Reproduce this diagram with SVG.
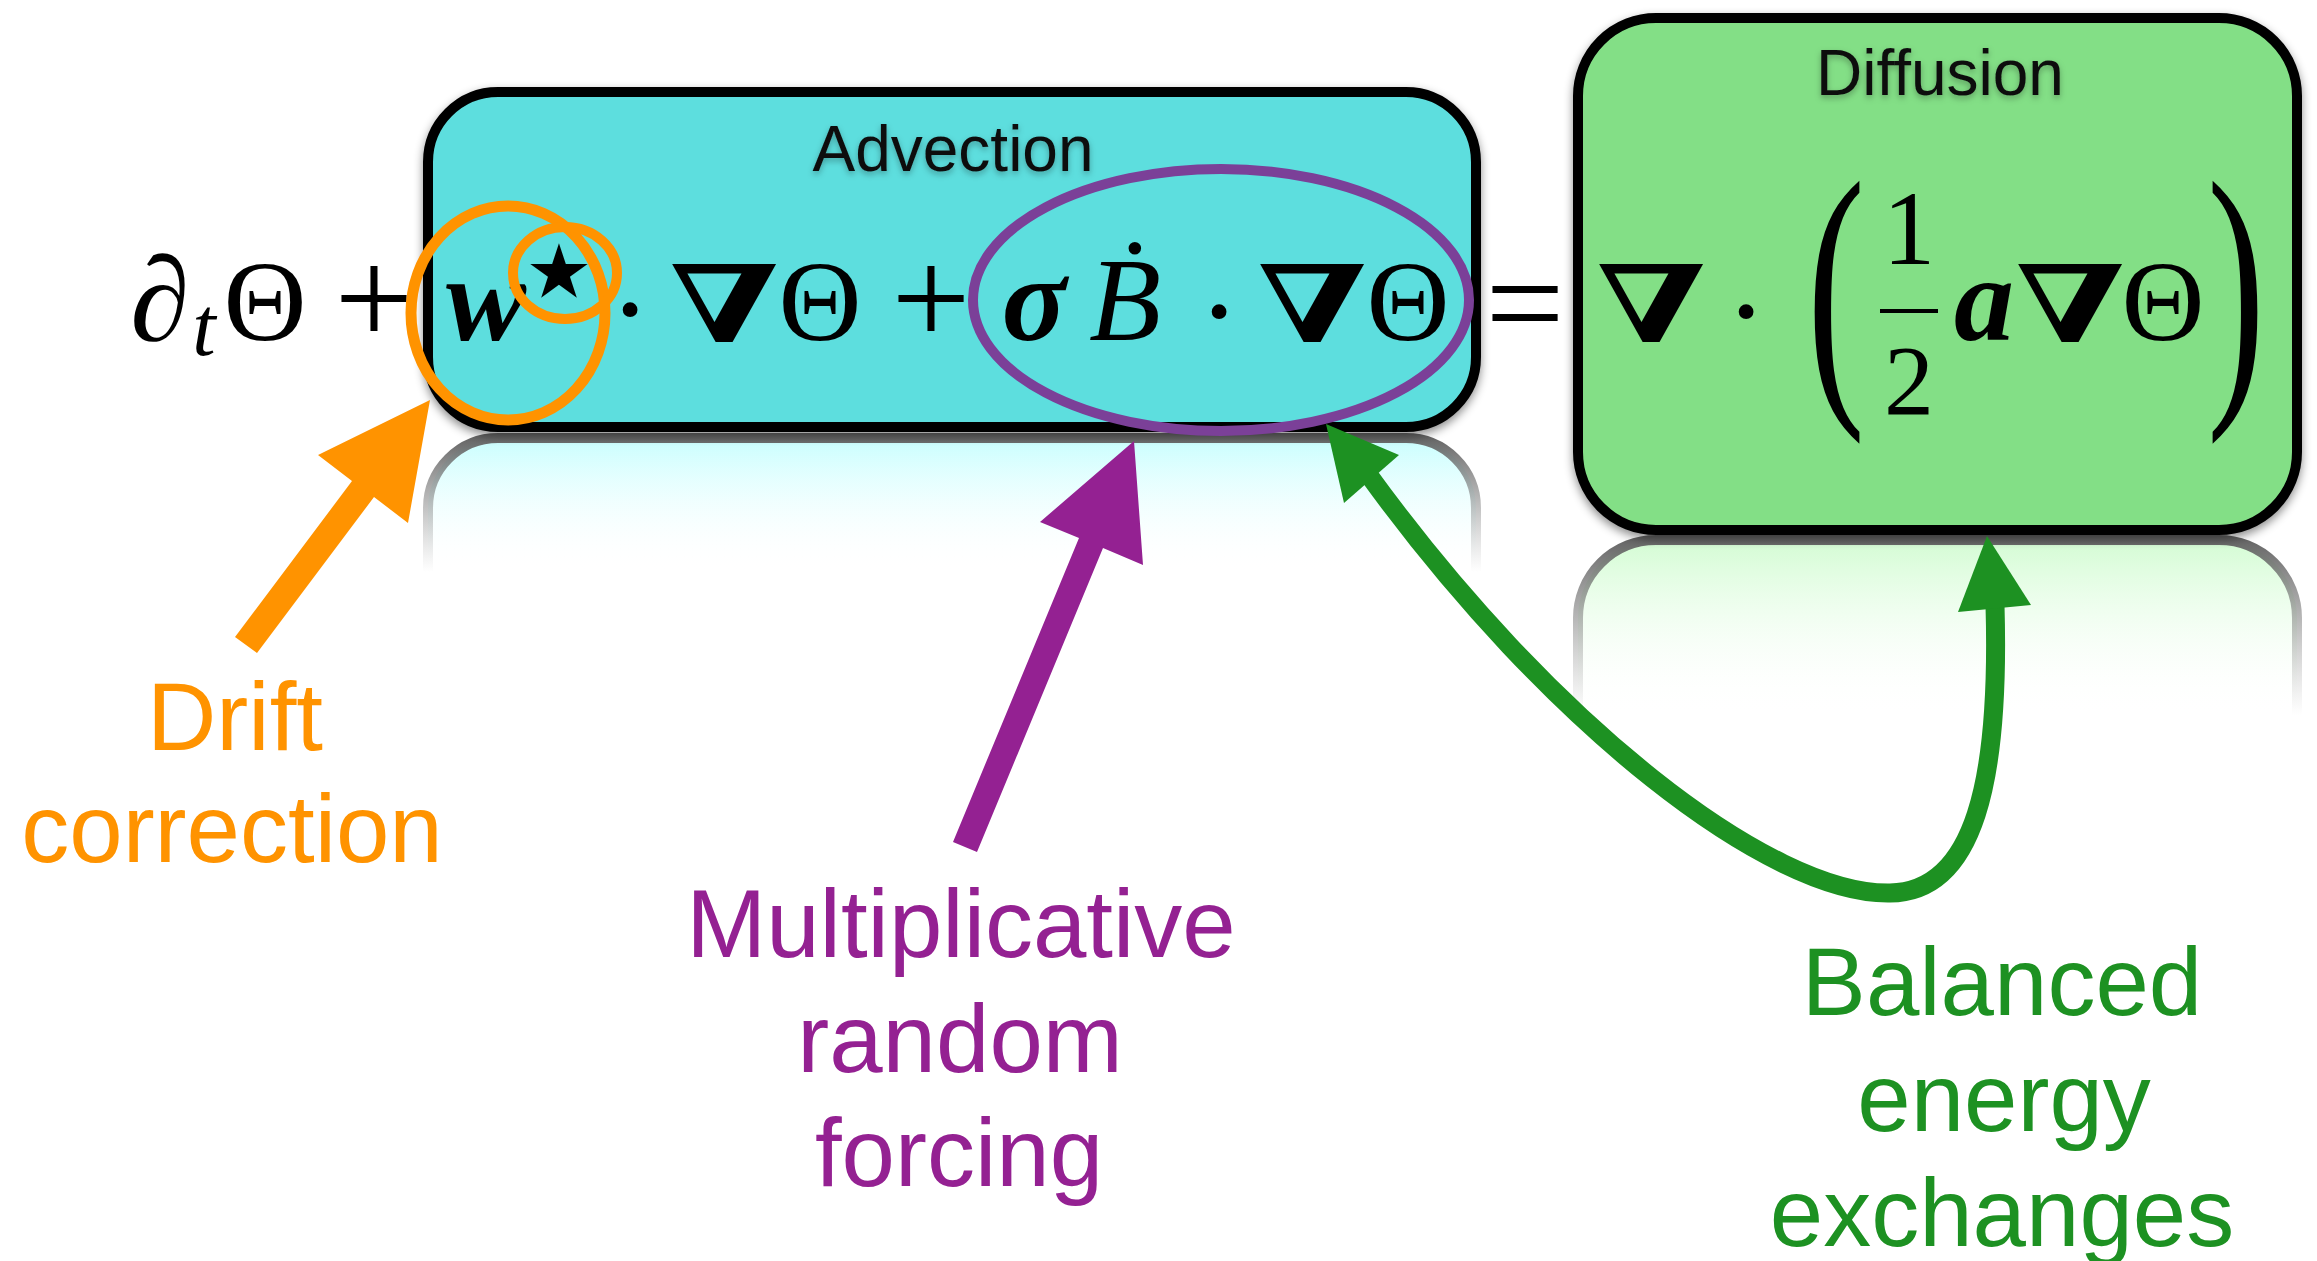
<svg xmlns="http://www.w3.org/2000/svg" width="2317" height="1261" viewBox="0 0 2317 1261">
<defs>
  <style>
    .lbl{font-family:"Liberation Sans","Helvetica Neue",Arial,sans-serif;font-size:96px;text-anchor:middle}
    .ttl{font-family:"Liberation Sans","Helvetica Neue",Arial,sans-serif;font-size:64px;text-anchor:middle;fill:#111}
    .m{font-family:"Liberation Serif","DejaVu Serif",serif;font-size:115px;fill:#000;text-anchor:middle}
    .mi{font-style:italic}
    .mbi{font-style:italic;font-weight:bold}
    .nab{font-family:"DejaVu Serif","Liberation Serif",serif;font-weight:bold;font-size:107px;fill:#000;text-anchor:middle}
    .sym{font-family:"DejaVu Sans","Liberation Sans",sans-serif;fill:#000;text-anchor:middle}
    .box{stroke:#000;stroke-width:10}
    .ell{fill:none}
  </style>
  <filter id="shadow" x="-10%" y="-10%" width="120%" height="130%">
    <feDropShadow dx="0" dy="4" stdDeviation="5" flood-color="#000" flood-opacity="0.45"/>
  </filter>
  <filter id="tshadow" x="-10%" y="-20%" width="120%" height="160%">
    <feDropShadow dx="0" dy="3" stdDeviation="3" flood-color="#000" flood-opacity="0.3"/>
  </filter>
  <linearGradient id="rfA" gradientUnits="userSpaceOnUse" x1="0" y1="438" x2="0" y2="572">
    <stop offset="0" stop-color="#c8fefe"/>
    <stop offset="1" stop-color="#ffffff" stop-opacity="0"/>
  </linearGradient>
  <linearGradient id="rsA" gradientUnits="userSpaceOnUse" x1="0" y1="438" x2="0" y2="572">
    <stop offset="0" stop-color="#666"/>
    <stop offset="1" stop-color="#999" stop-opacity="0"/>
  </linearGradient>
  <linearGradient id="rfD" gradientUnits="userSpaceOnUse" x1="0" y1="540" x2="0" y2="715">
    <stop offset="0" stop-color="#d3fcd3"/>
    <stop offset="1" stop-color="#ffffff" stop-opacity="0"/>
  </linearGradient>
  <linearGradient id="rsD" gradientUnits="userSpaceOnUse" x1="0" y1="540" x2="0" y2="715">
    <stop offset="0" stop-color="#666"/>
    <stop offset="1" stop-color="#999" stop-opacity="0"/>
  </linearGradient>
</defs>
<rect width="2317" height="1261" fill="#fff"/>

<g id="node-advection">
  <path d="M428,572 L428,508 A70,70 0 0 1 498,438 L1406,438 A70,70 0 0 1 1476,508 L1476,572" fill="url(#rfA)" stroke="url(#rsA)" stroke-width="10"/>
  <rect class="box" x="428" y="92" width="1048" height="335" rx="70" fill="#5ddede" filter="url(#shadow)"/>
  <text class="ttl" x="953" y="171" filter="url(#tshadow)">Advection</text>
</g>

<g id="node-diffusion">
  <path d="M1578,715 L1578,618 A78,78 0 0 1 1656,540 L2219,540 A78,78 0 0 1 2297,618 L2297,715" fill="url(#rfD)" stroke="url(#rsD)" stroke-width="10"/>
  <rect class="box" x="1578" y="18" width="719" height="512" rx="78" fill="#83df86" filter="url(#shadow)"/>
  <text class="ttl" x="1940" y="95" filter="url(#tshadow)">Diffusion</text>
</g>

<g id="equation">
  <text class="m mi" x="160" y="340" style="font-size:120px">∂</text>
  <text class="m mi" x="204" y="355" style="font-size:84px">t</text>
  <text class="m" x="265" y="340">Θ</text>
  <text class="m" x="374" y="345" style="font-size:140px">+</text>
  <text class="m mbi" x="486" y="340" style="font-size:120px">w</text>
  <text class="sym" x="559" y="320" style="font-size:150px">⋆</text>
  <text class="m" x="630" y="330" style="font-size:62px">•</text>
  <text class="nab" transform="translate(724,342) scale(1.36,1)" x="0" y="0">∇</text>
  <text class="m" x="820" y="340">Θ</text>
  <text class="m" x="931" y="345" style="font-size:140px">+</text>
  <text class="m mbi" x="1034" y="340" style="font-size:120px">σ</text>
  <text class="m mi" x="1125" y="340" style="font-size:118px">B&#x307;</text>
  <text class="m" x="1219" y="332" style="font-size:62px">•</text>
  <text class="nab" transform="translate(1312,342) scale(1.36,1)" x="0" y="0">∇</text>
  <text class="m" x="1408" y="340">Θ</text>
  <text class="m" x="1525" y="350" style="font-size:140px">=</text>
  <text class="nab" transform="translate(1651,342) scale(1.36,1)" x="0" y="0">∇</text>
  <text class="m" x="1746" y="332" style="font-size:62px">•</text>
  <text class="m" transform="translate(1836,382) scale(0.6,1)" x="0" y="0" style="font-size:290px">(</text>
  <text class="m" x="1909" y="264" style="font-size:105px">1</text>
  <line x1="1880" y1="311" x2="1938" y2="311" stroke="#000" stroke-width="4"/>
  <text class="m" x="1909" y="414" style="font-size:100px">2</text>
  <text class="m mbi" x="1984" y="340" style="font-size:120px">a</text>
  <text class="nab" transform="translate(2070,342) scale(1.36,1)" x="0" y="0">∇</text>
  <text class="m" x="2163" y="340">Θ</text>
  <text class="m" transform="translate(2236,382) scale(0.6,1)" x="0" y="0" style="font-size:290px">)</text>
</g>

<g id="highlights">
  <ellipse class="ell" cx="508" cy="313" rx="97" ry="107" stroke="#ff9300" stroke-width="11"/>
  <ellipse class="ell" cx="565" cy="273" rx="52" ry="46" stroke="#ff9300" stroke-width="10"/>
  <ellipse class="ell" cx="1221" cy="300" rx="248" ry="131" stroke="#7b4098" stroke-width="10"/>
</g>

<g id="connectors">
  <polygon points="235,637 352,481 318,455 430,400 408,523 374,497 257,653" fill="#ff9300"/>
  <polygon points="953,842 1079,538 1040,522 1134,441 1143,565 1103,548 977,852" fill="#942192"/>
  <path d="M1368,474 C1550,725 1770,895 1890,893 C1975,892 2000,780 1995,605" fill="none" stroke="#1d9122" stroke-width="19"/>
  <polygon points="1326,424 1399,455 1344,503" fill="#1d9122"/>
  <polygon points="1987,536 2031,605 1958,612" fill="#1d9122"/>
</g>

<g id="labels">
  <text class="lbl" x="235" y="750" fill="#ff9300">Drift</text>
  <text class="lbl" x="232" y="862" fill="#ff9300">correction</text>
  <text class="lbl" x="961" y="957" fill="#942192">Multiplicative</text>
  <text class="lbl" x="960" y="1072" fill="#942192">random</text>
  <text class="lbl" x="959" y="1186" fill="#942192">forcing</text>
  <text class="lbl" x="2002" y="1015" fill="#1d9122">Balanced</text>
  <text class="lbl" x="2004" y="1131" fill="#1d9122">energy</text>
  <text class="lbl" x="2002" y="1246" fill="#1d9122">exchanges</text>
</g>
</svg>
